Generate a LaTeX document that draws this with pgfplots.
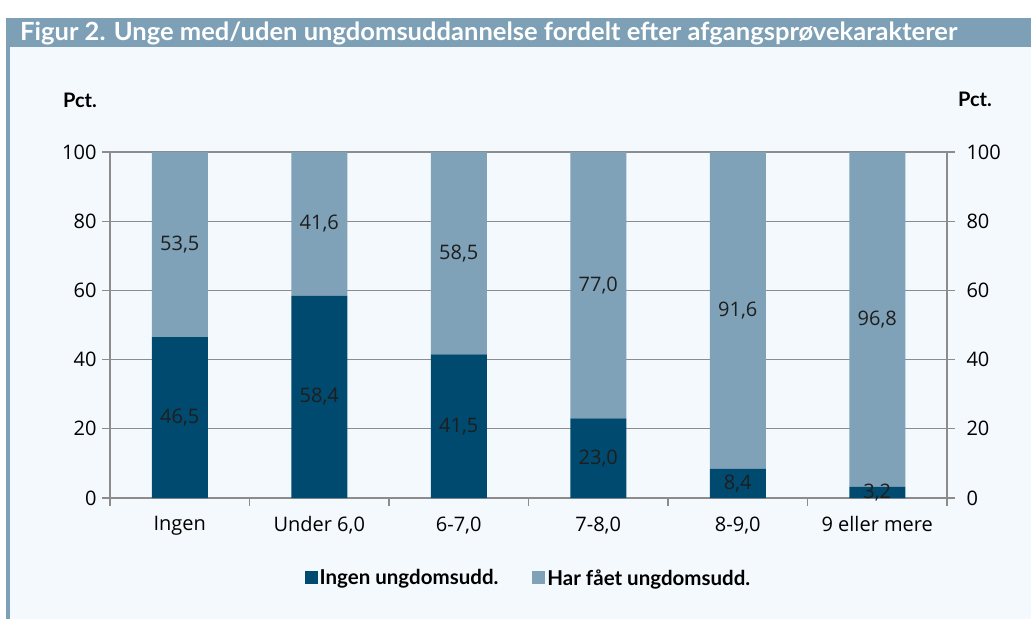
\documentclass[border=0pt]{standalone}
\usepackage{pgfplots}
\pgfplotsset{compat=1.18}
\usepackage{fontspec}
\setmainfont{Lato}
\newfontfamily\tickfont{Open Sans}
\usepackage{graphicx}
\definecolor{darkb}{HTML}{004A70}
\definecolor{lightb}{HTML}{7FA2B8}
\definecolor{titleb}{HTML}{7DA0B6}
\definecolor{bg}{HTML}{F4F9FD}
\definecolor{gridg}{HTML}{8C8C8C}
\definecolor{labc}{HTML}{1E1E1E}
\begin{document}
\begin{tikzpicture}[x=1pt,y=1pt]
\useasboundingbox (0,0) rectangle (1031,-619);
\fill[white] (0,0) rectangle (1031,-619);
\fill[bg] (10,-47) rectangle (1031,-619);
\fill[titleb] (6,-18) rectangle (1031,-47);
\fill[titleb] (6,-18) rectangle (10,-619);
\node[anchor=base west, text=white, inner sep=0pt] at (20,-40) {\resizebox{937pt}{\height}{\fontsize{25}{30}\selectfont\bfseries Figur 2. Unge med/uden ungdomsuddannelse fordelt efter afgangsprøvekarakterer}};
\node[anchor=base, inner sep=0pt, font=\fontsize{20}{24}\selectfont\bfseries] at (80,-107) {Pct.};
\node[anchor=base, inner sep=0pt, font=\fontsize{20}{24}\selectfont\bfseries] at (975,-106) {Pct.};
\begin{axis}[
  at={(110pt,-498pt)}, anchor=south west, scale only axis,
  width=837pt, height=346pt,
  ybar stacked, bar width=56pt,
  xmin=-0.5, xmax=5.5, ymin=0, ymax=100,
  ytick={0,20,...,100},
  xtick={0,...,5},
  xticklabels={Ingen, {Under 6,0}, {6-7,0}, {7-8,0}, {8-9,0}, {9 eller mere}},
  minor xtick={-0.5,0.5,...,5.5},
  major x tick style={draw=none},
  xtick pos=bottom, ytick pos=both,
  tick align=outside,
  major tick length=8pt, minor tick length=8pt,
  tick style={gridg, line width=1.2pt},
  ymajorgrids, grid style={gridg, line width=1.2pt},
  axis line style={gridg, line width=1.2pt},
  /pgf/number format/assume math mode=true,
  tick label style={font=\tickfont\fontsize{20}{24}\selectfont, text=black},
  xticklabel style={yshift=-7pt},
  yticklabel style={xshift=-2pt},
  legend style={at={(0.5,-0.231)}, anchor=center, draw=none, fill=none,
    legend columns=2, font=\fontsize{20.5}{24}\selectfont\bfseries,
    /tikz/every even column/.append style={column sep=32pt}},
  legend image code/.code={\fill[#1,draw=none] (-4pt,-6.5pt) rectangle (9pt,6.5pt);},
]
\addplot[fill=darkb, draw=none] coordinates {(0,46.5) (1,58.4) (2,41.5) (3,23.0) (4,8.4) (5,3.2)};
\addlegendentry{Ingen ungdomsudd.}
\addplot[fill=lightb, draw=none] coordinates {(0,53.5) (1,41.6) (2,58.5) (3,77.0) (4,91.6) (5,96.8)};
\addlegendentry{Har fået ungdomsudd.}
\end{axis}
\begin{axis}[
  at={(110pt,-498pt)}, anchor=south west, scale only axis,
  width=837pt, height=346pt,
  xmin=-0.5, xmax=5.5, ymin=0, ymax=100,
  hide x axis,
  axis y line*=right, y axis line style={draw=none},
  ytick={0,20,...,100}, ytick style={draw=none},
  /pgf/number format/assume math mode=true,
  yticklabel style={font=\tickfont\fontsize{20}{24}\selectfont, text=black, xshift=16pt},
  every node near coord/.append style={anchor=center, font=\tickfont\fontsize{20}{24}\selectfont, text=labc},
]
\addplot[draw=none, mark=none, nodes near coords, point meta=explicit symbolic]
  table[meta=lab, row sep=\\] {x y lab\\
  0 23.25 46,5\\ 1 29.2 58,4\\ 2 20.75 41,5\\ 3 11.5 23,0\\ 4 4.2 8,4\\ 5 1.6 3,2\\
  0 73.25 53,5\\ 1 79.2 41,6\\ 2 70.75 58,5\\ 3 61.5 77,0\\ 4 54.2 91,6\\ 5 51.6 96,8\\
  };
\end{axis}
\end{tikzpicture}
\end{document}
